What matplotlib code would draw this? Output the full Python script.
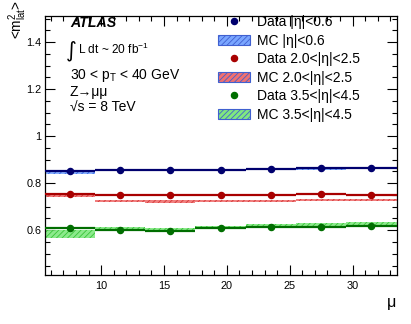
import matplotlib
matplotlib.use("Agg")
import matplotlib.pyplot as plt
import numpy as np
from matplotlib.lines import Line2D
from matplotlib.patches import Patch
from matplotlib.ticker import MultipleLocator, FixedLocator, FuncFormatter

plt.rcParams['font.family'] = ['Liberation Sans', 'DejaVu Sans']
plt.rcParams['mathtext.fontset'] = 'custom'
plt.rcParams['mathtext.rm'] = 'Liberation Sans'
plt.rcParams['mathtext.it'] = 'Liberation Sans:italic'
plt.rcParams['mathtext.bf'] = 'Liberation Sans:bold'
plt.rcParams['hatch.linewidth'] = 0.6

# ---- data ----
bin_edges = [5.5, 9.5, 13.5, 17.5, 21.5, 25.5, 29.5, 33.5]

data_c = [0.852, 0.854, 0.857, 0.857, 0.862, 0.863, 0.866]
data_f = [0.752, 0.748, 0.749, 0.749, 0.748, 0.752, 0.751]
data_v = [0.610, 0.599, 0.597, 0.611, 0.613, 0.614, 0.617]

mc_c = [0.846, 0.853, 0.856, 0.857, 0.859, 0.862, 0.865]
mc_c_err = [0.006, 0.003, 0.003, 0.003, 0.003, 0.004, 0.004]
mc_f = [0.751, 0.726, 0.722, 0.726, 0.725, 0.727, 0.727]
mc_f_err = [0.009, 0.0045, 0.0045, 0.0045, 0.0045, 0.0045, 0.0045]
mc_v = [0.585, 0.607, 0.606, 0.612, 0.620, 0.624, 0.627]
mc_v_err = [0.018, 0.006, 0.005, 0.005, 0.006, 0.007, 0.006]

labels_data = ['Data |η|<0.6', 'Data 2.0<|η|<2.5', 'Data 3.5<|η|<4.5']
labels_mc = ['MC |η|<0.6', 'MC 2.0<|η|<2.5', 'MC 3.5<|η|<4.5']

W, H = 411, 324
fig = plt.figure(figsize=(W / 100, H / 100), dpi=100)
ax = fig.add_axes([44.5 / W, 1 - 275.3 / H, (396.5 - 44.5) / W, (275.3 - 15.7) / H])

edges = np.array(bin_edges)
centers = 0.5 * (edges[:-1] + edges[1:])
widths = np.diff(edges)

data_cols = ['#00006e', '#a80000', '#006e00']
mc_fill = ['#7aa6ff', '#f07070', '#80e880']
mc_hatch = ['#3060e0', '#d03030', '#30c030']

for vals, errs, fc, hc in zip([mc_c, mc_f, mc_v], [mc_c_err, mc_f_err, mc_v_err], mc_fill, mc_hatch):
    v = np.array(vals); e = np.array(errs)
    ax.bar(centers, 2 * e, bottom=v - e, width=widths, color=fc, edgecolor=hc,
           hatch='//////', linewidth=0, alpha=0.9, zorder=2)

for vals, col in zip([data_c, data_f, data_v], data_cols):
    ax.errorbar(centers, vals, xerr=widths / 2, fmt='o', color=col, ms=4.4,
                elinewidth=1.6, capsize=0, zorder=3)

ax.set_xlim(5.5, 33.5)
ax.set_ylim(0.4085, 1.512)

ax.xaxis.set_major_locator(FixedLocator([10, 15, 20, 25, 30]))
ax.xaxis.set_minor_locator(MultipleLocator(1))
ax.yaxis.set_major_locator(FixedLocator([0.6, 0.8, 1.0, 1.2, 1.4]))
ax.yaxis.set_minor_locator(MultipleLocator(0.05))
ax.yaxis.set_major_formatter(FuncFormatter(lambda v, p: ('%g' % round(v, 2))))
ax.tick_params(which='both', direction='in', top=True, right=True, labelsize=7.8,
               width=0.8, colors='black')
ax.tick_params(which='major', length=7)
ax.tick_params(which='minor', length=3.5)
ax.tick_params(axis='x', pad=4)
ax.tick_params(axis='y', pad=2)
for s in ax.spines.values():
    s.set_linewidth(0.9)

def fx(x):
    return x / W

def fy(y):
    return 1 - y / H

# axis titles
fig.text(fx(18), fy(0), '<m$^{2}_{\\mathrm{lat}}$>', rotation=90, ha='center', va='top', fontsize=9.8)
fig.text(fx(396), fy(302), 'μ', ha='right', va='center', fontsize=11.5)

# annotations
fig.text(fx(70), fy(23), 'ATLAS', fontsize=10.2, fontweight='bold', fontstyle='italic', va='center', ha='left')
fig.text(fx(76.5), fy(51), '∫', fontsize=15, va='center', ha='right', family=['DejaVu Sans'])
fig.text(fx(77.5), fy(54), 'L dt ~ 20 fb$^{-1}$', fontsize=8.6, va='baseline', ha='left')
fig.text(fx(70), fy(75), '30 < p$_{\\mathrm{T}}$ < 40 GeV', fontsize=10, va='center', ha='left')
fig.text(fx(70), fy(92), 'Z→μμ', fontsize=10, va='center', ha='left')
fig.text(fx(70), fy(108), '√s = 8 TeV', fontsize=10, va='center', ha='left')

# legend
handles = []
labels = []
for i in range(3):
    handles.append(Line2D([], [], marker='o', ls='none', color=data_cols[i], ms=4.4))
    labels.append(labels_data[i])
    handles.append(Patch(facecolor=mc_fill[i], edgecolor='#4060d0', hatch='//////', linewidth=0.8))
    labels.append(labels_mc[i])
leg = fig.legend(handles, labels, loc='upper left', bbox_to_anchor=(fx(218), fy(15)),
                 frameon=False, fontsize=10, handlelength=2.3, handleheight=0.72,
                 handletextpad=0.5, labelspacing=0.33, borderaxespad=0, borderpad=0)

fig.savefig('out.png', dpi=100)
